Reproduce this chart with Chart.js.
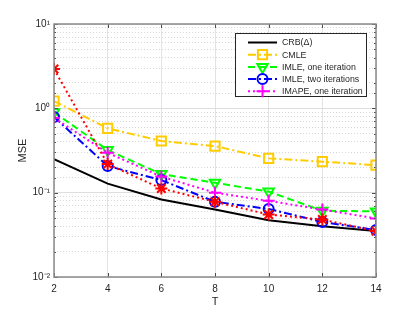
<!DOCTYPE html>
<html><head><meta charset="utf-8">
<script src="https://cdn.jsdelivr.net/npm/chart.js@4/dist/chart.umd.min.js"></script>
<style>html,body{margin:0;padding:0;background:#fff}#wrap{width:415px;height:312px}</style>
</head><body><div id="wrap"><canvas id="c" width="415" height="312"></canvas></div>
<script>
const T = [2, 4, 6, 8, 10, 12, 14];
const crb    = [0.25, 0.128, 0.083, 0.063, 0.047, 0.040, 0.035];
const cmle   = [1.22, 0.58, 0.41, 0.357, 0.255, 0.233, 0.212];
const imle1  = [0.90, 0.32, 0.166, 0.131, 0.103, 0.061, 0.060];
const imle2  = [0.79, 0.207, 0.141, 0.078, 0.064, 0.045, 0.036];
const imape1 = [0.77, 0.297, 0.155, 0.100, 0.080, 0.063, 0.0495];
const extra  = [2.93, 0.218, 0.112, 0.078, 0.055, 0.048, 0.035];
const seriesNames = ['CRB(\u0394)', 'CMLE', 'IMLE, one iteration', 'IMLE, two iterations', 'IMAPE, one iteration'];
const xTicks = [2, 4, 6, 8, 10, 12, 14];

const FONT = '"Liberation Sans", Arial, sans-serif';
const TXT = '#262626';
const pts = arr => T.map((t, i) => ({x: t, y: arr[i]}));

const styles = [
  {color:'#000000', dash:[], pointStyle:false, radius:0, rot:0, order:5},
  {color:'#FFCC00', dash:[8,3,2,3], pointStyle:'rect', radius:6.5, rot:0, order:4},
  {color:'#00FF00', dash:[7,4], pointStyle:'triangle', radius:6, rot:180, order:3},
  {color:'#0000FF', dash:[8,3,2,3], pointStyle:'circle', radius:5, rot:0, order:2},
  {color:'#FF00FF', dash:[2,3], pointStyle:'cross', radius:6, rot:0, order:1},
  {color:'#FF0000', dash:[2,3], pointStyle:'star', radius:6, rot:0, order:0}
];
const allData = [crb, cmle, imle1, imle2, imape1, extra];
const datasets = allData.map((d, i) => ({
  label: i < seriesNames.length ? seriesNames[i] : '',
  data: pts(d),
  borderColor: styles[i].color,
  backgroundColor: 'rgba(0,0,0,0)',
  borderWidth: 2,
  borderDash: styles[i].dash,
  pointStyle: styles[i].pointStyle,
  pointRadius: styles[i].radius,
  pointRotation: styles[i].rot,
  pointBorderWidth: 2,
  pointBorderColor: styles[i].color,
  pointBackgroundColor: 'rgba(0,0,0,0)',
  tension: 0,
  order: styles[i].order
}));

const isMajor = v => Math.abs(Math.log10(v) - Math.round(Math.log10(v))) < 1e-9;
const sup = {'-':'\u207B','0':'\u2070','1':'\u00B9','2':'\u00B2','3':'\u00B3'};
const powLabel = v => '10' + String(Math.round(Math.log10(v))).split('').map(c => sup[c]).join('');

const framePlugin = {
  id: 'frame',
  afterDatasetsDraw(chart) {
    const {ctx, chartArea: a, scales} = chart;
    ctx.save();
    // inward ticks
    ctx.strokeStyle = '#4d4d4d';
    ctx.lineWidth = 1;
    ctx.beginPath();
    scales.x.ticks.forEach(t => {
      const x = Math.round(scales.x.getPixelForValue(t.value)) + 0.5;
      ctx.moveTo(x, a.bottom); ctx.lineTo(x, a.bottom - 4);
      ctx.moveTo(x, a.top); ctx.lineTo(x, a.top + 4);
    });
    scales.y.ticks.forEach(t => {
      const y = Math.round(scales.y.getPixelForValue(t.value)) + 0.5;
      const L = isMajor(t.value) ? 4 : 2;
      ctx.moveTo(a.left, y); ctx.lineTo(a.left + L, y);
      ctx.moveTo(a.right, y); ctx.lineTo(a.right - L, y);
    });
    ctx.stroke();
    // box
    ctx.strokeStyle = '#8a8a8a';
    ctx.lineWidth = 1.5;
    ctx.strokeRect(a.left, a.top, a.right - a.left, a.bottom - a.top);
    // legend
    const lx = 235, ly = 33, lw = 131, lh = 63;
    ctx.fillStyle = '#ffffff';
    ctx.fillRect(lx, ly, lw, lh);
    ctx.strokeStyle = '#262626';
    ctx.lineWidth = 1;
    ctx.strokeRect(lx + 0.5, ly + 0.5, lw, lh);
    ctx.font = '8.8px ' + FONT;
    ctx.textBaseline = 'middle';
    ctx.textAlign = 'left';
    for (let i = 0; i < seriesNames.length; i++) {
      const y = 42.5 + i * 12.2;
      const s = styles[i];
      ctx.strokeStyle = s.color;
      ctx.lineWidth = 2;
      ctx.setLineDash(s.dash);
      ctx.beginPath(); ctx.moveTo(248, y); ctx.lineTo(277, y); ctx.stroke();
      ctx.setLineDash([]);
      if (s.pointStyle) {
        ctx.fillStyle = 'rgba(0,0,0,0)';
        Chart.helpers.drawPoint(ctx, {pointStyle: s.pointStyle, radius: s.radius, rotation: s.rot, borderWidth: 2}, 262.5, y);
      }
      ctx.fillStyle = TXT;
      ctx.fillText(seriesNames[i], 282, y + 0.5);
    }
    ctx.restore();
  }
};

new Chart(document.getElementById('c'), {
  type: 'line',
  data: {datasets},
  options: {
    responsive: false,
    animation: false,
    devicePixelRatio: 1,
    layout: {padding: {top: 24, right: 39, left: 0, bottom: 0}},
    plugins: {legend: {display: false}, tooltip: {enabled: false}, title: {display: false}},
    scales: {
      x: {
        type: 'linear', min: 2, max: 14,
        afterBuildTicks: s => { s.ticks = xTicks.map(v => ({value: v})); },
        afterFit: s => { s.height = 35; },
        grid: {color: '#e3e3e3', lineWidth: 1, drawTicks: false},
        border: {display: false},
        ticks: {padding: 6, color: TXT, font: {family: FONT, size: 10}, maxRotation: 0, autoSkip: false},
        title: {display: true, text: 'T', color: TXT, font: {family: FONT, size: 11}, padding: {top: 0, bottom: 3}}
      },
      y: {
        type: 'logarithmic', min: 0.01, max: 10,
        afterFit: s => { s.width = 54; },
        grid: {color: c => (c.tick && isMajor(c.tick.value)) ? '#dedede' : '#d6d6d6', lineWidth: 1, drawTicks: false},
        border: {display: false, dash: c => (c.tick && isMajor(c.tick.value)) ? [] : [1, 2]},
        ticks: {
          padding: 4, color: TXT, font: {family: FONT, size: 10}, autoSkip: false,
          callback: v => isMajor(v) ? powLabel(v) : ''
        },
        title: {display: true, text: 'MSE', color: TXT, font: {family: FONT, size: 11}, padding: {top: 16, bottom: 0}}
      }
    }
  },
  plugins: [framePlugin]
});
</script>
</body></html>
